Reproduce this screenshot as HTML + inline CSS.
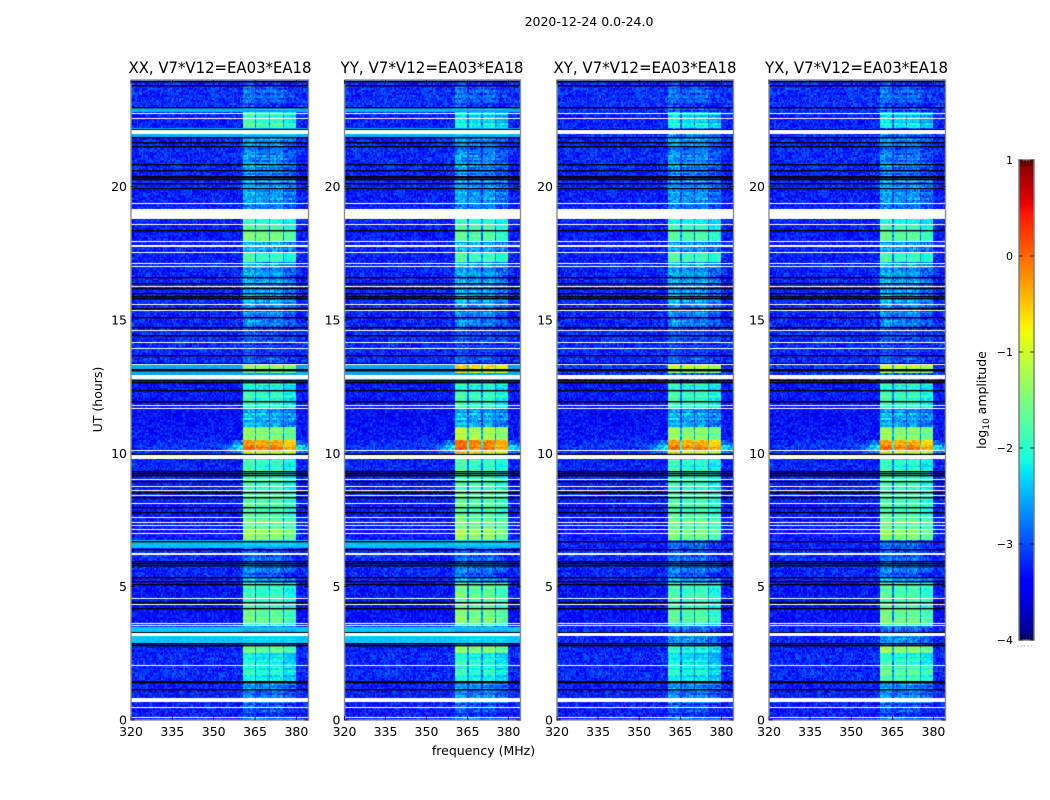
<!DOCTYPE html>
<html lang="en">
<head>
<meta charset="utf-8">
<title>2020-12-24 0.0-24.0</title>
<style>
html,body{margin:0;padding:0;background:#fff;}
#figure{position:relative;width:1050px;height:800px;overflow:hidden;background:#fff;font-family:"DejaVu Sans","Liberation Sans",sans-serif;}
canvas{position:absolute;display:block;}
#overlay{position:absolute;left:0;top:0;}
text{fill:#000;font-family:"DejaVu Sans","Liberation Sans",sans-serif;}
</style>
</head>
<body>
<div id="figure">
<svg id="overlay" width="1050" height="800"></svg>
</div>
<script>
// ---- data (log10 amplitude, hours, MHz) ----
const panelNames = ['XX', 'YY', 'XY', 'YX'];
const panelSuffix = ', V7*V12=EA03*EA18';
const freqTicks = [320, 335, 350, 365, 380];
const hourTicks = [0, 5, 10, 15, 20];
const cbarTicks = [1, 0, -1, -2, -3, -4];
const timeEdges = [0,0.6,1.15,1.45,2.05,2.5,2.8,3.55,3.7,4.2,4.55,5.1,5.4,6.35,6.75,7.2,7.85,8.6,9.4,9.97,10.15,10.33,10.5,11,11.7,12.65,13.0,13.4,14.7,15.5,16.25,16.75,17.2,17.55,17.95,18.37,18.8,19.87,20.3,20.87,21.5,21.9,22.2,22.8,24];
const bgLevels = [-3.25,-3.25,-3.25,-3.2,-3.2,-3.25,-3.2,-3.3,-3.35,-3.35,-3.3,-3.25,-3.2,-3.25,-3.3,-3.3,-3.25,-3.25,-3.25,-3.2,-3.15,-3.2,-3.3,-3.35,-3.3,-3.15,-3.15,-3.2,-3.2,-3.2,-3.2,-3.25,-3.25,-3.25,-3.3,-3.25,-3.25,-3.2,-3.2,-3.2,-3.2,-3.15,-3.25,-3.15];
const xxRfi = [-2.9,-2.6,-2.6,-2.05,-2.1,-1.45,-2.6,-1.8,-1.45,-1.9,-1.75,-2.4,-2.8,-2.75,-1.35,-1.6,-1.65,-1.75,-1.95,-0.85,-0.05,-0.4,-1.45,-2.4,-1.9,-2.7,-1.4,-3.0,-2.6,-2.5,-2.45,-2.55,-1.85,-2.4,-1.55,-1.85,-2.55,-2.3,-2.6,-2.7,-2.4,-3.0,-1.8,-2.85];
const yyRfi = [-2.9,-2.5,-2.6,-2.0,-2.0,-1.25,-2.5,-1.6,-1.3,-1.7,-1.45,-2.4,-2.8,-2.7,-1.3,-1.55,-1.6,-1.7,-1.9,-0.6,-0.05,-0.2,-1.2,-2.4,-1.85,-2.7,-0.8,-3.0,-2.6,-2.5,-2.45,-2.55,-1.8,-2.4,-1.75,-1.85,-2.55,-2.4,-2.6,-2.7,-2.5,-3.0,-2.15,-2.85];
const xyRfi = [-2.9,-2.55,-2.6,-2.1,-2.2,-1.9,-2.7,-2.0,-1.55,-1.9,-1.7,-2.4,-2.8,-2.8,-1.5,-1.6,-1.7,-1.8,-2.0,-0.8,-0.1,-0.45,-1.4,-2.45,-1.85,-2.8,-1.1,-3.0,-2.6,-2.55,-2.45,-2.55,-1.8,-2.5,-1.8,-2.0,-2.6,-2.45,-2.65,-2.7,-2.4,-2.7,-2.15,-2.85];
const yxRfi = [-2.9,-2.5,-2.6,-1.7,-1.95,-1.2,-2.7,-1.6,-1.4,-1.8,-1.6,-2.4,-2.8,-2.8,-1.4,-1.6,-1.7,-1.75,-2.0,-0.85,-0.05,-0.45,-1.4,-2.45,-1.85,-2.8,-1.1,-3.0,-2.6,-2.55,-2.45,-2.55,-1.85,-2.5,-1.7,-1.95,-2.6,-2.35,-2.7,-2.8,-2.5,-2.85,-2.2,-2.85];
const subbandStart = [360.5, 365.7, 370.5, 375.5];
const subbandEnd = [365, 369.9, 375.1, 379.8];
const subbandOffset = [0.12, 0, 0.02, -0.18];
const tailSegments = [19, 20, 21];
const tailPeaks = [-2.5, -2.1, -2.7];
const cyanBandStart = [2.87, 6.42, 12.77, 21.9, 22.82];
const cyanBandEnd = [3.5, 6.75, 13.37, 22.17, 22.97];
const cyanBandLevel = [-2.4, -2.45, -2.55, -2.5, -2.5];
const cyanBandPanels = ['XX', 'YY'];
const whiteBarStart = [0.67, 3.15, 6.17, 9.80, 12.79, 17.5, 17.74, 18.78, 21.97];
const whiteBarEnd = [0.82, 3.27, 6.27, 9.94, 12.93, 17.56, 17.81, 19.17, 22.11];
const whiteLines = [0.1,0.48,2.07,3.55,3.62,4.36,4.56,7.0,7.15,7.31,7.41,7.6,8.13,8.44,8.63,8.79,9.03,10.14,11.69,11.8,13.35,13.94,14.16,14.61,15.36,15.59,16.28,17.03,17.13,17.98,18.59,19.37,22.56,22.78];
const blackLines = [1.15,1.42,1.47,2.82,2.87,3.31,4.19,4.44,5.1,5.22,5.37,5.81,5.9,5.96,6.4,6.72,7.81,7.98,8.36,8.56,8.95,9.17,9.25,9.34,9.99,11.98,12.36,12.66,12.74,13.12,13.15,13.38,13.69,14.44,14.75,15.12,15.46,15.84,15.9,16.0,16.21,16.37,16.6,18.36,19.96,20.12,20.29,20.35,20.38,20.41,20.62,20.85,21.51,21.68,21.87,22.18,22.97,23.83,23.95];
// hand-estimated residual table that approximates the receiver-noise speckle
const speckle = [0.9,-0.6,0.2,-0.9,0.5,-0.2,1,-0.7,0.1,0.6,-1,0.3,-0.4,0.8,-0.8,0,0.7,-0.5,-0.1,0.4,-0.9,0.9,-0.3,0.2,-0.7,0.6,-0.6,1,-0.2,0.3,-1,0.5,0.1,-0.4,0.8,-0.8,0.4,-0.1,0.7,-0.5,0.2,-0.9,0.9,-0.3,0.6,-0.7,0,0.5,-1,0.3,0.8,-0.2,-0.6,0.1,0.7,-0.8,0.4,-0.4,1,-0.5,0.2];

// ---- layout ----
const panelLeft = [131, 344.5, 557, 769];
const panelRight = [308.5, 520.5, 733.5, 945.5];
const titleCenter = [220, 432, 645, 856.5];
const plotTop = 80, plotBottom = 720;
const freqMin = 320, freqMax = 384.4, hourMax = 24;
const rowHours = 1 / 16, colMHz = 0.5;
const cbarLeft = 1019, cbarRight = 1034, cbarTop = 160, cbarBottom = 640;
const vMin = -4, vMax = 1;
const SVGNS = 'http://www.w3.org/2000/svg';
const figure = document.getElementById('figure');
const overlay = document.getElementById('overlay');

function xScale(p, f) { return panelLeft[p] + (f - freqMin) / (freqMax - freqMin) * (panelRight[p] - panelLeft[p]); }
function yScale(h) { return plotBottom - h / hourMax * (plotBottom - plotTop); }
function cbarY(v) { return cbarBottom - (v - vMin) / (vMax - vMin) * (cbarBottom - cbarTop); }

function ramp(x, pts) {
  for (let i = 1; i < pts.length; i++) {
    if (x <= pts[i][0]) {
      const a = pts[i - 1], b = pts[i];
      return a[1] + (b[1] - a[1]) * (x - a[0]) / (b[0] - a[0]);
    }
  }
  return pts[pts.length - 1][1];
}
function jet(x) {
  x = Math.max(0, Math.min(1, x));
  const r = ramp(x, [[0,0],[0.35,0],[0.66,1],[0.89,1],[1,0.5]]);
  const g = ramp(x, [[0,0],[0.125,0],[0.375,1],[0.64,1],[0.91,0],[1,0]]);
  const b = ramp(x, [[0,0.5],[0.11,1],[0.34,1],[0.65,0],[1,0]]);
  return 'rgb(' + Math.round(r * 255) + ',' + Math.round(g * 255) + ',' + Math.round(b * 255) + ')';
}
function colorOf(v) { return jet((v - vMin) / (vMax - vMin)); }
function segmentOf(h) {
  for (let i = 0; i < timeEdges.length - 1; i++) if (h < timeEdges[i + 1]) return i;
  return timeEdges.length - 2;
}
function speckleAt(row, col) {
  let k = (Math.imul(row + 1, 73856093) ^ Math.imul(col + 1, 19349663)) >>> 0;
  k = (k ^ (k >>> 13)) >>> 0;
  k = Math.imul(k, 1274126177) >>> 0;
  k = (k ^ (k >>> 16)) >>> 0;
  return speckle[k % speckle.length];
}
function rowStripe(row) { return speckle[(row * row * 3 + row * 7) % speckle.length]; }
function cellValue(name, rfi, row, col) {
  const h = (row + 0.5) * rowHours, f = freqMin + (col + 0.5) * colMHz;
  const seg = segmentOf(h);
  let base = bgLevels[seg];
  let inBand = false;
  if (cyanBandPanels.indexOf(name) >= 0) {
    for (let i = 0; i < cyanBandStart.length; i++) {
      if (h >= cyanBandStart[i] && h < cyanBandEnd[i]) { base = cyanBandLevel[i]; inBand = true; }
    }
  }
  let level = base, bright = false;
  const t = tailSegments.indexOf(seg);
  if (t >= 0) {
    if (f >= 353 && f < subbandStart[0]) level = Math.max(base, base + (tailPeaks[t] - base) * (f - 353) / (subbandStart[0] - 353));
    if (f > subbandEnd[3] && f <= 384.4) level = Math.max(base, tailPeaks[t] - (f - subbandEnd[3]) * 0.12);
  }
  if (f >= subbandStart[0] && f <= subbandEnd[3]) {
    level = Math.max(base, bgLevels[seg] + (rfi[seg] - bgLevels[seg]) * 0.35);
    for (let i = 0; i < subbandStart.length; i++) {
      if (f >= subbandStart[i] && f <= subbandEnd[i]) {
        const bias = rfi[seg] < -1 ? -0.12 : 0;
        level = Math.max(base, rfi[seg] + subbandOffset[i] + bias);
        bright = true;
      }
    }
  }
  const strong = bright && rfi[seg] > -2.3;
  const amp = inBand && !strong ? 0.07 : (strong ? 0.2 : 0.33);
  const stripe = bright ? rowStripe(row) * 0.2 : 0;
  return level + speckleAt(row, col) * amp + stripe;
}

// ---- heatmaps ----
const rfiByPanel = [xxRfi, yyRfi, xyRfi, yxRfi];
const rowCount = Math.round(hourMax / rowHours);
const colCount = Math.ceil((freqMax - freqMin) / colMHz);
panelNames.forEach(function (name, p) {
  const L = Math.floor(panelLeft[p]), W = Math.ceil(panelRight[p]) - L, H = plotBottom - plotTop;
  const cv = document.createElement('canvas');
  cv.width = W; cv.height = H;
  cv.style.left = L + 'px'; cv.style.top = plotTop + 'px';
  
  
  figure.insertBefore(cv, overlay);
  const ctx = cv.getContext('2d');
  ctx.fillStyle = '#fff'; ctx.fillRect(0, 0, W, H);
  for (let r = 0; r < rowCount; r++) {
    const yA = Math.round(yScale((r + 1) * rowHours)) - plotTop;
    const yB = Math.round(yScale(r * rowHours)) - plotTop;
    for (let c = 0; c < colCount; c++) {
      const xA = Math.round(xScale(p, freqMin + c * colMHz)) - L;
      const xB = Math.round(xScale(p, freqMin + (c + 1) * colMHz)) - L;
      ctx.fillStyle = colorOf(cellValue(name, rfiByPanel[p], r, c));
      ctx.fillRect(xA, yA, xB - xA, yB - yA);
    }
  }
  ctx.fillStyle = '#000';
  blackLines.forEach(function (h) { ctx.fillRect(0, Math.round(yScale(h)) - plotTop, W, 1.4); });
  ctx.fillStyle = '#fff';
  whiteBarStart.forEach(function (s, i) {
    const top = Math.round(yScale(whiteBarEnd[i])), bot = Math.round(yScale(s));
    ctx.fillRect(0, top - plotTop, W, bot - top);
  });
  whiteLines.forEach(function (h) { ctx.fillRect(0, Math.round(yScale(h)) - plotTop, W, 1); });
});

// ---- colorbar ----
(function () {
  const cv = document.createElement('canvas');
  const W = cbarRight - cbarLeft, H = cbarBottom - cbarTop;
  cv.width = W; cv.height = H;
  cv.style.left = cbarLeft + 'px'; cv.style.top = cbarTop + 'px';
  
  
  figure.insertBefore(cv, overlay);
  const ctx = cv.getContext('2d');
  for (let y = 0; y < H; y++) {
    ctx.fillStyle = jet(1 - (y + 0.5) / H);
    ctx.fillRect(0, y, W, 1);
  }
})();

// ---- svg helpers ----
function make(tag, attrs, parent) {
  const el = document.createElementNS(SVGNS, tag);
  Object.keys(attrs).forEach(function (k) { el.setAttribute(k, attrs[k]); });
  (parent || overlay).appendChild(el);
  return el;
}
function label(str, x, y, size, anchor, parent) {
  const el = make('text', { x: x, y: y, 'font-size': size, 'text-anchor': anchor || 'middle' }, parent);
  el.textContent = str;
  return el;
}

// ---- axes ----
panelNames.forEach(function (name, p) {
  const lname = name.toLowerCase();
  const g = make('g', {});
  
  
  const frame = make('rect', { x: panelLeft[p], y: plotTop, width: panelRight[p] - panelLeft[p], height: plotBottom - plotTop, fill: 'none', stroke: '#8c8c8c', 'stroke-width': 1.4 }, g);
  
  
  const title = label(name + panelSuffix, titleCenter[p], 73, 16, 'middle', g);
  title.setAttribute('textLength', 183);
  title.setAttribute('lengthAdjust', 'spacingAndGlyphs');
  
  
  freqTicks.forEach(function (f) {
    const x = xScale(p, f);
    const t1 = make('line', { x1: x, x2: x, y1: plotBottom, y2: plotBottom - 4, stroke: '#000', 'stroke-width': 0.7 }, g);
    
    
    const t2 = make('line', { x1: x, x2: x, y1: plotTop, y2: plotTop + 4, stroke: '#000', 'stroke-width': 0.7 }, g);
    
    
    const tl = label(String(f), x, 736, 12.5, 'middle', g);
    
    
  });
  hourTicks.forEach(function (h) {
    const y = yScale(h);
    const t1 = make('line', { x1: panelLeft[p], x2: panelLeft[p] + 4, y1: y, y2: y, stroke: '#000', 'stroke-width': 0.7 }, g);
    
    
    const t2 = make('line', { x1: panelRight[p], x2: panelRight[p] - 4, y1: y, y2: y, stroke: '#000', 'stroke-width': 0.7 }, g);
    
    
    const tl = label(String(h), panelLeft[p] - 4, y + 4.5, 12.5, 'end', g);
    
    
  });
});

const suptitle = label('2020-12-24 0.0-24.0', 589, 26, 12.5);


const xTitle = label('frequency (MHz)', 483.5, 755, 12.5);


const yTitle = label('UT (hours)', 0, 0, 12.5);
yTitle.setAttribute('transform', 'translate(102,399.5) rotate(-90)');



// ---- colorbar axis ----
const cbFrame = make('rect', { x: cbarLeft, y: cbarTop, width: cbarRight - cbarLeft, height: cbarBottom - cbarTop, fill: 'none', stroke: '#777', 'stroke-width': 1.4 });


cbarTicks.forEach(function (v) {
  const y = cbarY(v);
  const tl = label(String(v).replace('-', '\u2212'), cbarLeft - 6, y + 4, 11, 'end');
  
  
  const a = make('line', { x1: cbarLeft, x2: cbarLeft + 4, y1: y, y2: y, stroke: '#000', 'stroke-width': 0.7 });
  
  
  const b = make('line', { x1: cbarRight, x2: cbarRight - 4, y1: y, y2: y, stroke: '#000', 'stroke-width': 0.7 });
  
  
});
[0.2, 0.4, 0.6, 0.8].forEach(function (fr) {
  const x = cbarLeft + fr * (cbarRight - cbarLeft);
  const a = make('line', { x1: x, x2: x, y1: cbarTop, y2: cbarTop + 6, stroke: '#000', 'stroke-width': 0.7 });
  
  
  const b = make('line', { x1: x, x2: x, y1: cbarBottom - 6, y2: cbarBottom, stroke: '#000', 'stroke-width': 0.7 });
  
  
});
const cbDots = make('line', { x1: 1017.5, x2: 1035, y1: 646, y2: 646, stroke: '#999', 'stroke-width': 1, 'stroke-dasharray': '1 2.4' });


const cbTitle = make('text', { 'font-size': 12.5, 'text-anchor': 'middle', transform: 'translate(986,400) rotate(-90)' });


cbTitle.appendChild(document.createTextNode('log'));
const sub = make('tspan', { 'font-size': 9, dy: 3 }, cbTitle);
sub.textContent = '10';
const rest = make('tspan', { dy: -3 }, cbTitle);
rest.textContent = ' amplitude';
</script>
</body>
</html>
